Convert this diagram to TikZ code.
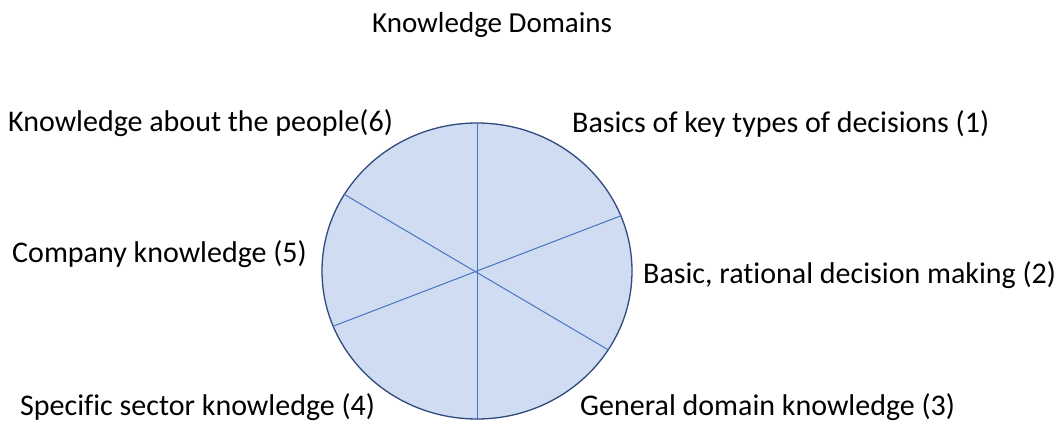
\documentclass[tikz,border=0pt]{standalone}
\usepackage{fontspec}
\setmainfont{Carlito}[RawFeature=-liga]
\usetikzlibrary{shapes.geometric}
\definecolor{diskfill}{HTML}{D0DCF2}
\definecolor{diskline}{HTML}{2F4A7E}
\definecolor{spoke}{HTML}{4A74C2}
\begin{document}
\begin{tikzpicture}[x=1pt,y=1pt,
  lbl/.style={anchor=base west,inner sep=0pt,font=\fontsize{30}{36}\selectfont},
  ttl/.style={anchor=base west,inner sep=0pt,font=\fontsize{29}{35}\selectfont},
  spokeline/.style={draw=spoke,line width=1pt}]
\useasboundingbox (0,0) rectangle (1058,421);
\clip (0,0) rectangle (1058,421);
\node[ellipse,draw=diskline,line width=1.3pt,fill=diskfill,minimum width=310pt,minimum height=296pt,inner sep=0pt] (disk) at (477,150) {};
\draw[spokeline] (disk.north) -- (disk.south);
\draw[spokeline] (disk.150) -- (disk.329);
\draw[spokeline] (disk.201) -- (disk.21);
\node[ttl] (title) at (372,388) {Knowledge Domains};
\node[lbl] (l6) at (8,289) {Knowledge about the people(6)};
\node[lbl] (l1) at (572,288) {Basics of key types of decisions (1)};
\node[lbl] (l5) at (12,159) {Company knowledge (5)};
\node[lbl] (l2) at (643,138) {Basic, rational decision making (2)};
\node[lbl] (l4) at (20,6) {Specific sector knowledge (4)};
\node[lbl] (l3) at (580,6) {General domain knowledge (3)};
\end{tikzpicture}
\end{document}
